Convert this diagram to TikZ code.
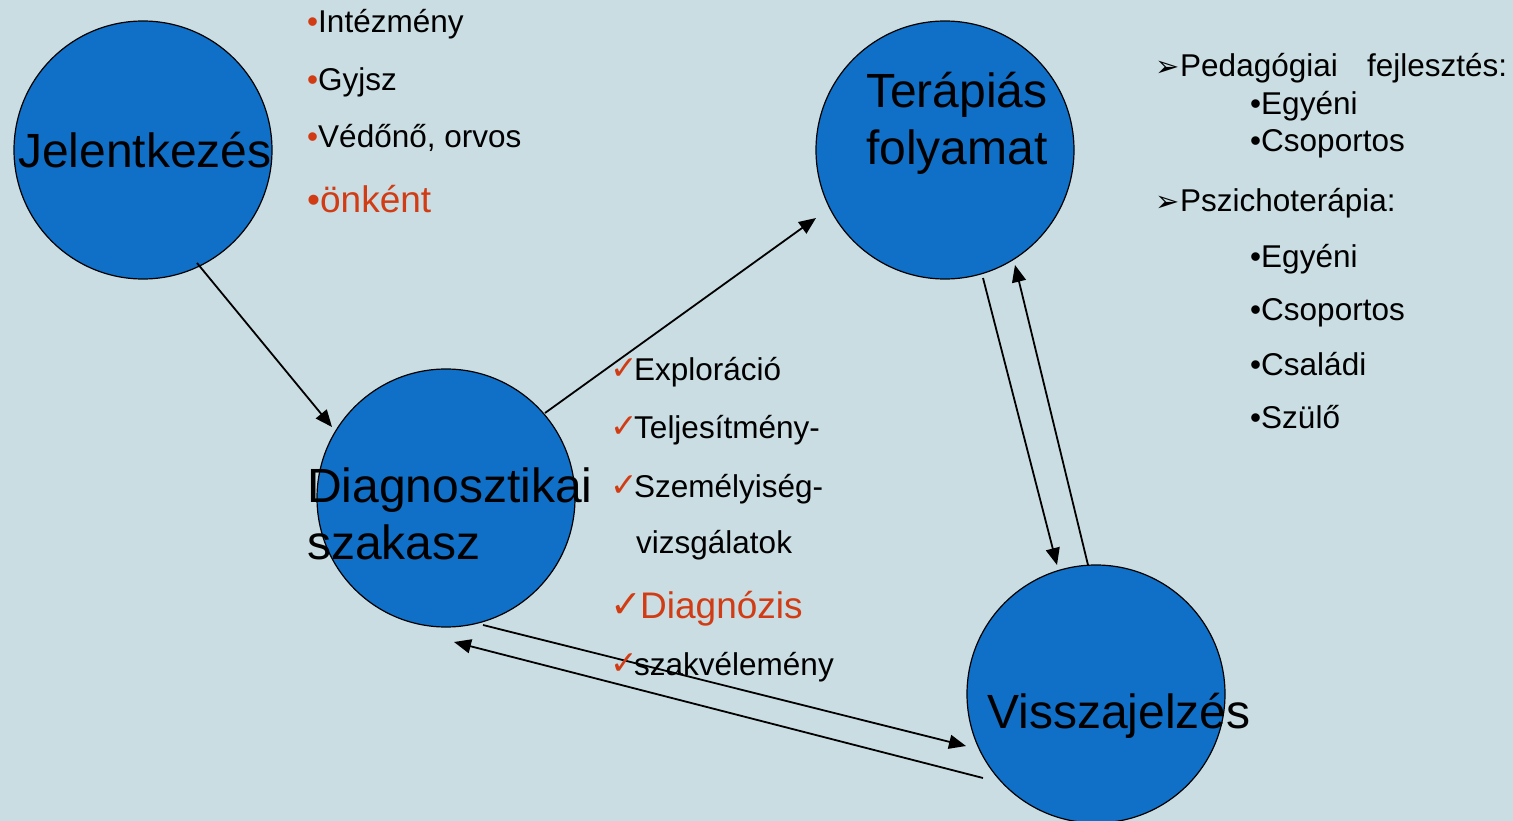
\documentclass[tikz,border=0pt]{standalone}
\usepackage{fontspec}
\setmainfont{Liberation Sans}
\newfontfamily\djv{DejaVu Sans}
\usetikzlibrary{arrows.meta,calc}
\definecolor{bg}{RGB}{201,221,226}
\definecolor{circ}{RGB}{16,111,198}
\definecolor{rd}{RGB}{210,60,20}
\newcommand\mychk[2]{\makebox[#1pt][l]{\raisebox{1pt}{\textcolor{rd}{\djv\fontsize{#2}{#2}\selectfont ✓}}}}
\newcommand\myarr{\makebox[25pt][l]{\djv\fontsize{29}{29}\selectfont ➢}}
\newcommand\rb{\textcolor{rd}{•}}
\begin{document}
\begin{tikzpicture}[x=1pt,y=-1pt,
  stage/.style={circle,draw=black,line width=1.2pt,fill=circ,minimum size=258pt,inner sep=0pt},
  big/.style={anchor=base west,inner sep=0pt,font=\fontsize{48}{57}\selectfont},
  item/.style={anchor=base west,inner sep=0pt,font=\fontsize{31.5}{38}\selectfont},
  reditem/.style={anchor=base west,inner sep=0pt,font=\fontsize{37}{44}\selectfont,text=rd},
  conn/.style={line width=1.8pt,-{Triangle[length=17pt,width=14pt]}}
]
\fill[bg] (0,0) rectangle (1513,821);
\useasboundingbox (0,0) rectangle (1513,821);

% stages
\node[stage] (J) at (143,150) {};
\node[stage] (D) at (446,498) {};
\node[stage] (T) at (945,150) {};
\node[stage] (V) at (1096,694) {};

% connectors
\draw[conn] ($(J)+(54,113)$) -- ($(D)+(-114,-71)$);
\draw[conn] ($(D)+(99,-85)$) -- ($(T)+(-129,68)$);
\draw[conn] ($(T)+(38,128)$) -- ($(V)+(-39,-129)$);
\draw[conn] ($(V)+(-8,-129)$) -- ($(T)+(70,115)$);
\draw[conn] ($(D)+(37,127)$) -- ($(V)+(-130,52)$);
\draw[conn] ($(V)+(-113,84)$) -- ($(D)+(8,144)$);

% stage labels
\node[big] (Jt) at (18,168) {Jelentkezés};
\node[big] (Tt1) at (866,108) {Terápiás};
\node[big] (Tt2) at (866,165) {folyamat};
\node[big] (Dt1) at (307,502) {Diagnosztikai};
\node[big] (Dt2) at (307,559) {szakasz};
\node[big] (Vt) at (987,728) {Visszajelzés};

% top list
\node[item] (l1) at (307,33) {\rb Intézmény};
\node[item] (l2) at (307,91) {\rb Gyjsz};
\node[item] (l3) at (307,148) {\rb Védőnő, orvos};
\node[reditem] (l4) at (307,213) {•önként};

% check list
\node[item] (c1) at (610,380) {\mychk{24}{33}Exploráció};
\node[item] (c2) at (610,438) {\mychk{24}{33}Teljesítmény-};
\node[item] (c3) at (610,497) {\mychk{24}{33}Személyiség-};
\node[item] (c4) at (636,553) {vizsgálatok};
\node[reditem] (c5) at (610,618) {\mychk{30}{38}Diagnózis};
\node[item] (c6) at (610,675) {\mychk{24}{33}szakvélemény};

% right list
\node[item] (r1) at (1155,77) {\myarr\makebox[327pt][s]{Pedagógiai fejlesztés:}};
\node[item] (r2) at (1250,115) {•Egyéni};
\node[item] (r3) at (1250,152) {•Csoportos};
\node[item] (r4) at (1155,212) {\myarr Pszichoterápia:};
\node[item] (r5) at (1250,267) {•Egyéni};
\node[item] (r6) at (1250,320) {•Csoportos};
\node[item] (r7) at (1250,375) {•Családi};
\node[item] (r8) at (1250,428) {•Szülő};
\end{tikzpicture}
\end{document}
